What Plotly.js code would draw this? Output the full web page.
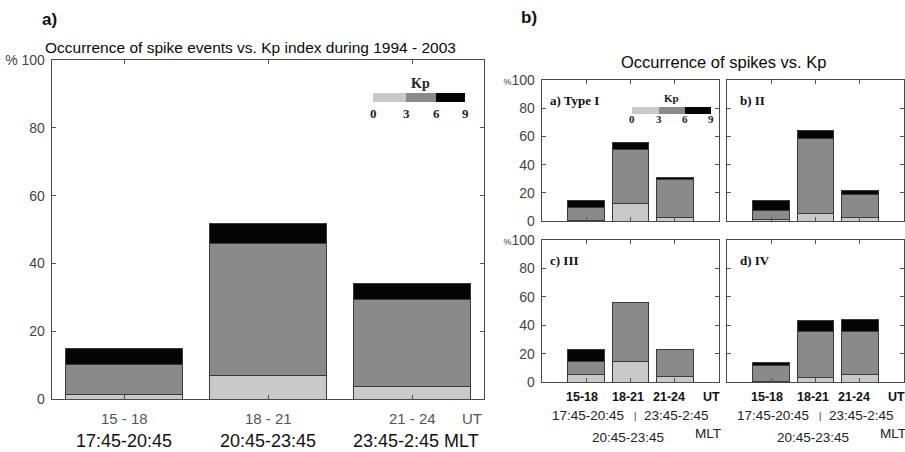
<!DOCTYPE html>
<html>
<head>
<meta charset="utf-8">
<script src="https://cdn.plot.ly/plotly-3.0.1.min.js"></script>
<style>html,body{margin:0;padding:0;background:#fff;}#chart{width:905px;height:452px;}</style>
</head>
<body>
<div id="chart"></div>
<script>
// ---------- DATA ----------
const utBins = ['15 - 18', '18 - 21', '21 - 24'];
const utBinsShort = ['15-18', '18-21', '21-24'];
const mltBins = ['17:45-20:45', '20:45-23:45', '23:45-2:45'];
const kpTicks = ['0', '3', '6', '9'];
const yTickVals = [0, 20, 40, 60, 80, 100];

// Panel a): all spike events 1994-2003, % per Kp class (stacked segments)
const allKpLow  = [1.4, 6.8, 3.8];   // Kp 0-3
const allKpMid  = [8.8, 39.1, 25.6]; // Kp 3-6
const allKpHigh = [4.6, 5.9, 4.7];   // Kp 6-9

// Panel b): by spike type
const typeILow  = [0.5, 12.5, 2.6];
const typeIMid  = [8.9, 38.3, 27.0];
const typeIHigh = [4.8, 5.0, 1.6];

const typeIILow  = [1.2, 5.2, 2.6];
const typeIIMid  = [6.1, 53.4, 16.5];
const typeIIHigh = [6.9, 5.4, 2.4];

const typeIIILow  = [5.2, 14.1, 4.0];
const typeIIIMid  = [8.9, 41.9, 18.9];
const typeIIIHigh = [8.8, 0.0, 0.0];

const typeIVLow  = [0.3, 3.1, 5.4];
const typeIVMid  = [11.0, 32.7, 29.9];
const typeIVHigh = [2.6, 7.2, 9.0];

// ---------- STYLE ----------
const W = 905, H = 452;
const px = x => x / W;
const py = y => 1 - y / H;
const cLow = '#c9c9c9', cMid = '#8a8a8a', cHigh = '#050505';
const SANS = 'Arial, "Liberation Sans", sans-serif';
const SERIF = '"Times New Roman", "Liberation Serif", serif';

function bars(xa, ya, low, mid, high, width) {
  const line = {color: '#3a3a3a', width: 1};
  return [
    {type: 'bar', x: utBins, y: low, xaxis: xa, yaxis: ya, width: width, marker: {color: cLow, line: line}, showlegend: false, hoverinfo: 'y'},
    {type: 'bar', x: utBins, y: mid, xaxis: xa, yaxis: ya, width: width, marker: {color: cMid, line: line}, showlegend: false, hoverinfo: 'y'},
    {type: 'bar', x: utBins, y: high, xaxis: xa, yaxis: ya, width: width, marker: {color: cHigh, line: line}, showlegend: false, hoverinfo: 'y'}
  ];
}

const data = [].concat(
  bars('x', 'y', allKpLow, allKpMid, allKpHigh, 0.81),
  bars('x2', 'y2', typeILow, typeIMid, typeIHigh, 0.83),
  bars('x3', 'y3', typeIILow, typeIIMid, typeIIHigh, 0.83),
  bars('x4', 'y4', typeIIILow, typeIIIMid, typeIIIHigh, 0.83),
  bars('x5', 'y5', typeIVLow, typeIVMid, typeIVHigh, 0.83)
);

function xax(domain, range, anchor) {
  return {domain: domain, range: range, anchor: anchor, type: 'category', categoryarray: utBins,
    showticklabels: false, ticks: 'inside', ticklen: 4, tickcolor: '#555', showline: true,
    linecolor: '#4a4a4a', linewidth: 1.3, mirror: 'ticks', showgrid: false, zeroline: false, fixedrange: true};
}
function yax(domain, anchor, labels, fontSize, pctText) {
  return {domain: domain, range: [0, 100], anchor: anchor, tickvals: yTickVals,
    ticktext: yTickVals.map(v => v === 100 ? pctText : String(v)),
    showticklabels: labels, tickfont: {family: SANS, size: fontSize, color: '#444'},
    ticks: 'inside', ticklen: 4, tickcolor: '#555', showline: true, linecolor: '#4a4a4a', linewidth: 1.3,
    mirror: 'ticks', showgrid: false, zeroline: false, ticklabelstandoff: 3, fixedrange: true};
}

const dTopY = [py(221), py(80)];
const dBotY = [py(382), py(240)];
const dLX = [px(542), px(719)];
const dRX = [px(727), px(904)];

const layout = {
  width: W, height: H,
  margin: {l: 0, r: 0, t: 0, b: 0},
  paper_bgcolor: '#fff', plot_bgcolor: '#fff',
  barmode: 'stack',
  showlegend: false,
  xaxis: xax([px(52), px(484)], [-0.5, 2.5], 'y'),
  yaxis: yax([py(399), py(60)], 'x', true, 14, '% 100'),
  xaxis2: xax(dLX, [-1, 3], 'y2'),
  yaxis2: yax(dTopY, 'x2', true, 14, '<span style="font-size:9px">%</span>100'),
  xaxis3: xax(dRX, [-1, 3], 'y3'),
  yaxis3: yax(dTopY, 'x3', false, 14, '100'),
  xaxis4: xax(dLX, [-1, 3], 'y4'),
  yaxis4: yax(dBotY, 'x4', true, 14, '<span style="font-size:9px">%</span>100'),
  xaxis5: xax(dRX, [-1, 3], 'y5'),
  yaxis5: yax(dBotY, 'x5', false, 14, '100'),
  shapes: [],
  annotations: []
};

const A = layout.annotations;
function note(text, x, y, o) {
  A.push(Object.assign({text: text, x: x, y: y, xref: 'paper', yref: 'paper', showarrow: false,
    xanchor: 'center', yanchor: 'middle', font: {family: SANS, size: 13, color: '#111'}}, o || {}));
}

// Panel labels and titles
note('<b>a)</b>', px(40), py(20), {xanchor: 'left', font: {family: SANS, size: 17, color: '#111'}});
note('<b>b)</b>', px(519), py(18), {xanchor: 'left', font: {family: SANS, size: 17, color: '#111'}});
note('Occurrence of spike events vs. Kp index during 1994 - 2003', px(250), py(47), {font: {family: SANS, size: 15.5, color: '#0a0a0a'}});
note('Occurrence of spikes vs. Kp', px(723), py(62), {font: {family: SANS, size: 16.5, color: '#0a0a0a'}});

// Left panel x labels
utBins.forEach((t, i) => note(t, i, py(418), {xref: 'x', font: {family: SANS, size: 15, color: '#555'}}));
note('UT', 2.42, py(418), {xref: 'x', font: {family: SANS, size: 15, color: '#555'}});
note(mltBins[0], 0, py(441), {xref: 'x', font: {family: SANS, size: 18, color: '#111'}});
note(mltBins[1], 1, py(441), {xref: 'x', font: {family: SANS, size: 18, color: '#111'}});
note(mltBins[2] + ' MLT', 2.03, py(441), {xref: 'x', font: {family: SANS, size: 18, color: '#111'}});

// Left panel Kp key
note('<b>Kp</b>', px(420), py(83), {font: {family: SERIF, size: 14, color: '#222'}});
const keyL = [373, 406, 436, 465];
[cLow, cMid, cHigh].forEach((c, i) => layout.shapes.push({type: 'rect', xref: 'paper', yref: 'paper',
  x0: px(keyL[i]), x1: px(keyL[i + 1]), y0: py(102), y1: py(93), fillcolor: c, line: {width: 0}}));
kpTicks.forEach((t, i) => note('<b>' + t + '</b>', px(keyL[i]), py(113), {font: {family: SERIF, size: 13, color: '#222'}}));

// Right panel Kp key (inside Type I)
note('<b>Kp</b>', px(671), py(98), {font: {family: SERIF, size: 11, color: '#222'}});
const keyR = [632, 659, 685, 711];
[cLow, cMid, cHigh].forEach((c, i) => layout.shapes.push({type: 'rect', xref: 'paper', yref: 'paper',
  x0: px(keyR[i]), x1: px(keyR[i + 1]), y0: py(114), y1: py(107), fillcolor: c, line: {width: 0}}));
kpTicks.forEach((t, i) => note('<b>' + t + '</b>', px(keyR[i]), py(119), {font: {family: SERIF, size: 11, color: '#222'}}));

// Sub-panel labels
const subFont = {family: SERIF, size: 13, color: '#111'};
note('<b>a) Type I</b>', px(548), py(100), {xanchor: 'left', font: subFont});
note('<b>b) II</b>', px(738), py(100), {xanchor: 'left', font: subFont});
note('<b>c) III</b>', px(548), py(260), {xanchor: 'left', font: subFont});
note('<b>d) IV</b>', px(738), py(260), {xanchor: 'left', font: subFont});

// Bottom-row x labels (c and d)
['x4', 'x5'].forEach(xr => {
  const bold = {family: SANS, size: 12.5, color: '#111'};
  const reg = {family: SANS, size: 13.5, color: '#222'};
  [-0.1, 0.95, 1.87].forEach((xv, i) => note('<b>' + utBinsShort[i] + '</b>', xv, py(397), {xref: xr, font: bold}));
  note('<b>UT</b>', 2.82, py(397), {xref: xr, font: bold});
  note(mltBins[0], 0.03, py(415), {xref: xr, font: reg});
  note('|', 1.1, py(416), {xref: xr, font: {family: SANS, size: 9, color: '#222'}});
  note(mltBins[2], 2.04, py(415), {xref: xr, font: reg});
  note(mltBins[1], 0.95, py(437), {xref: xr, font: reg});
  note('MLT', 2.76, py(433), {xref: xr, font: reg});
});

Plotly.newPlot('chart', data, layout, {staticPlot: true, displayModeBar: false});
</script>
</body>
</html>
